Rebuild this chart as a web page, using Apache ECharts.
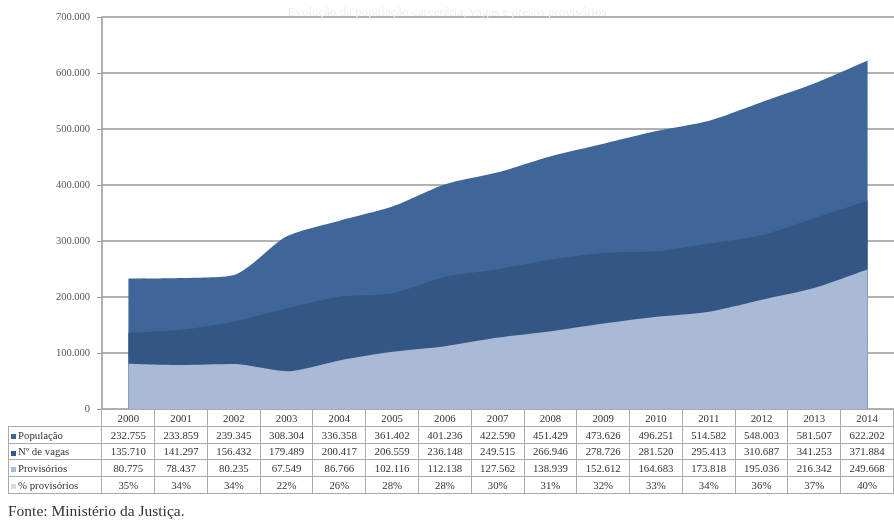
<!DOCTYPE html>
<html><head><meta charset="utf-8">
<script src="https://cdn.jsdelivr.net/npm/echarts@6/dist/echarts.min.js"></script>
<style>
html,body{margin:0;padding:0;background:#fff;}
#wrap{position:relative;width:894px;height:529px;overflow:hidden;font-family:"Liberation Serif","DejaVu Serif",serif;}
#chart{position:absolute;left:0;top:0;width:894px;height:529px;}
#tbl{position:absolute;left:8px;top:409px;border-collapse:collapse;table-layout:fixed;font-size:10.8px;color:#333;}
#tbl td{border:1px solid #aaa;height:15.8px;padding:0;text-align:center;white-space:nowrap;overflow:hidden;}
#tbl td.h{text-align:left;padding-left:2px;}
#tbl td.blank{border:none;}
.k{display:inline-block;width:5px;height:5px;margin-right:2px;vertical-align:middle;}
#fonte{position:absolute;left:8px;top:502px;font-size:15.5px;color:#333;}
</style></head>
<body><div id="wrap"><div id="chart"></div><table id="tbl"></table><div id="fonte">Fonte: Ministério da Justiça.</div></div>
<script>
const anos = ['2000','2001','2002','2003','2004','2005','2006','2007','2008','2009','2010','2011','2012','2013','2014'];
const populacao = [232755,233859,239345,308304,336358,361402,401236,422590,451429,473626,496251,514582,548003,581507,622202];
const vagas = [135710,141297,156432,179489,200417,206559,236148,249515,266946,278726,281520,295413,310687,341253,371884];
const provisorios = [80775,78437,80235,67549,86766,102116,112138,127562,138939,152612,164683,173818,195036,216342,249668];
const pctProvisorios = ['35%','34%','34%','22%','26%','28%','28%','30%','31%','32%','33%','34%','36%','37%','40%'];
const nomes = ['População','Nº de vagas','Provisórios','% provisórios'];
const cores = ['#3f6699','#345685','#a9b9d6','#d3dcec'];
const titulo = 'Evolução da população carcerária, vagas e presos provisórios';

const fmt = v => String(v).replace(/\B(?=(\d{3})+(?!\d))/g,'.');

const chart = echarts.init(document.getElementById('chart'),null,{renderer:'canvas'});
const mk = (i,data)=>({name:nomes[i],type:'line',data:data,symbol:'none',smooth:0.25,
  lineStyle:{width:0},areaStyle:{color:cores[i],opacity:1},z:2+i});
chart.setOption({
  animation:false,
  title:{text:titulo,left:'center',top:1,textStyle:{fontFamily:'Liberation Serif',fontSize:13,fontWeight:'normal',color:'#eeeeee'}},
  grid:{left:102,top:17,width:798,height:392,containLabel:false},
  xAxis:{type:'category',data:anos,boundaryGap:true,axisLine:{show:false},axisTick:{show:false},axisLabel:{show:false}},
  yAxis:{type:'value',min:0,max:700000,interval:100000,
    axisLine:{show:true,lineStyle:{color:'#999',width:1.5}},
    axisTick:{show:true,inside:false,length:5,lineStyle:{color:'#999'}},
    splitLine:{show:true,lineStyle:{color:'#999',width:1.5}},
    axisLabel:{formatter:v=>fmt(v),fontFamily:'Liberation Serif',fontSize:10.5,color:'#555',margin:12}},
  series:[mk(0,populacao),mk(1,vagas),mk(2,provisorios)]
});

// data table
const W = 798/15;
const tbl = document.getElementById('tbl');
let html = '<colgroup><col style="width:94px">' + anos.map(()=>`<col style="width:${W}px">`).join('') + '</colgroup>';
html += '<tr><td class="blank"></td>' + anos.map(a=>`<td>${a}</td>`).join('') + '</tr>';
const rows = [populacao.map(fmt), vagas.map(fmt), provisorios.map(fmt), pctProvisorios];
rows.forEach((r,i)=>{
  html += `<tr><td class="h"><span class="k" style="background:${cores[i]}"></span>${nomes[i]}</td>` + r.map(v=>`<td>${v}</td>`).join('') + '</tr>';
});
tbl.innerHTML = html;
</script></body></html>
